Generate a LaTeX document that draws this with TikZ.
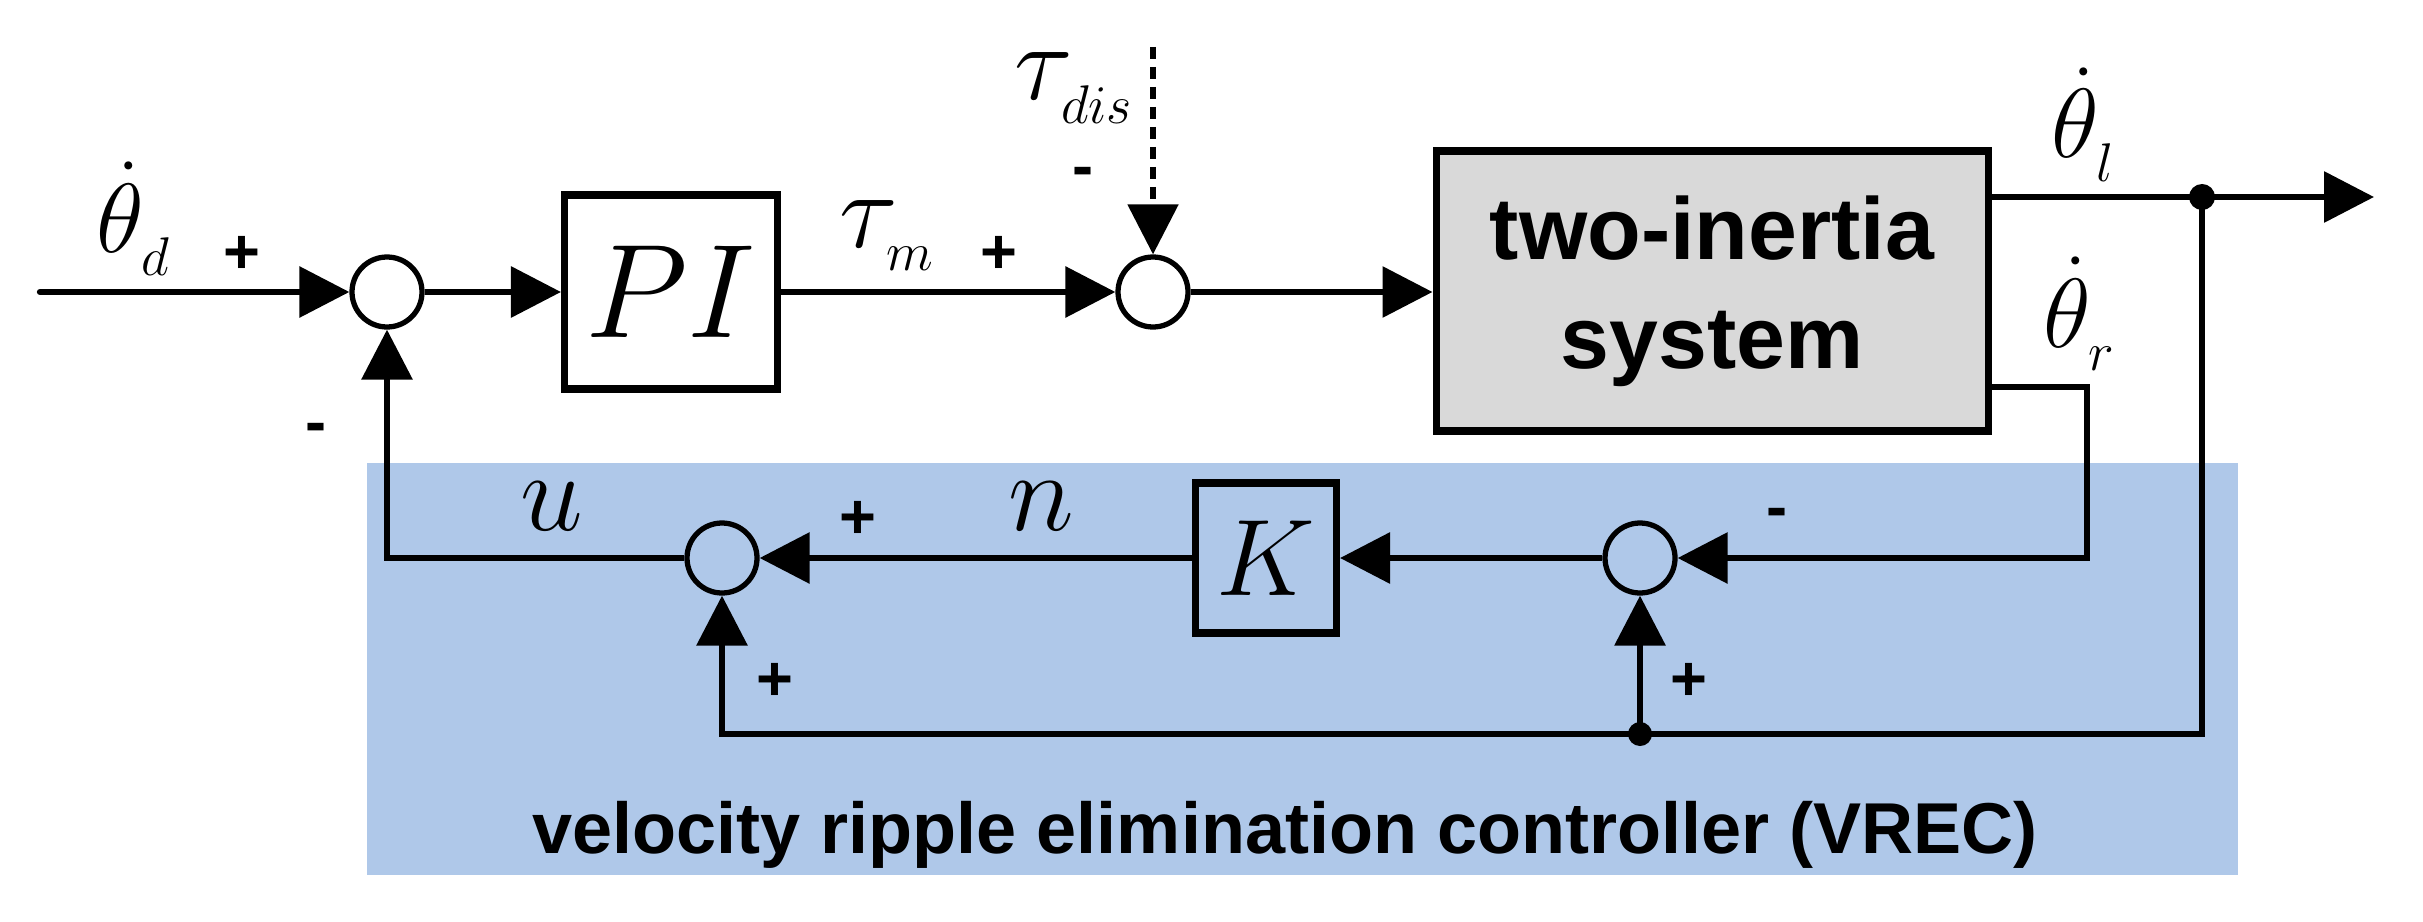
\RequirePackage{fix-cm}
\documentclass[tikz,border=0pt]{standalone}
\usepackage{amsmath}
\usepackage{fontspec}
\setsansfont{Liberation Sans}
\usetikzlibrary{arrows.meta}
\definecolor{vrecblue}{RGB}{175,200,233}
\definecolor{plantgray}{RGB}{217,217,217}
\DeclareMathSizes{28}{28}{15.5}{11}
\DeclareMathSizes{31}{31}{15.5}{11}
\newcommand{\lowsub}{\fontdimen16\textfont2=0.23cm\relax}

\begin{document}
\begin{tikzpicture}[
  sig/.style={line width=1.8pt,-{Triangle[length=5mm,width=5mm]}},
  wire/.style={line width=1.8pt},
  sumnode/.style={circle,draw,line width=1.5pt,minimum size=0.70cm,inner sep=0pt},
  blk/.style={draw,line width=2pt,inner sep=0pt},
  sgn/.style={font=\sffamily\bfseries\fontsize{18}{18}\selectfont,inner sep=0pt},
  lbl/.style={anchor=base west,inner sep=0pt,font=\fontsize{28}{30}\selectfont}
]
\useasboundingbox (0,0) rectangle (24.23,-9.21);
\fill[vrecblue] (3.67,-4.63) rectangle (22.38,-8.75);

\coordinate (in) at (0.40,-2.92);
\node[sumnode] (errsum) at (3.87,-2.92) {};
\node[blk,minimum width=2.13cm,minimum height=1.94cm,font=\fontsize{38}{40}\selectfont] (pi) at (6.71,-2.92) {$PI$};
\node[sumnode] (torqsum) at (11.53,-2.92) {};
\coordinate (dis) at (11.53,-0.47);
\node[blk,fill=plantgray,minimum width=5.52cm,minimum height=2.80cm,align=center,font=\sffamily\bfseries\fontsize{25}{31}\selectfont] (plant) at (17.12,-2.91) {two-inertia\\system};
\coordinate (jl) at (22.02,-1.97);
\coordinate (out) at (23.74,-1.97);
\coordinate (rc) at (20.87,-3.87);
\coordinate (jb) at (22.02,-7.34);
\node[sumnode] (ripsum) at (16.40,-5.58) {};
\node[blk,minimum width=1.41cm,minimum height=1.50cm,font=\fontsize{31}{33}\selectfont] (gain) at (12.66,-5.58) {$K$};
\node[sumnode] (usum) at (7.22,-5.58) {};
\coordinate (jk) at (ripsum |- jb);

\draw[sig,line cap=round] (in) -- (errsum);
\draw[sig] (errsum) -- (pi);
\draw[sig] (pi) -- (torqsum);
\draw[sig] (torqsum) -- (torqsum -| plant.west);
\draw[sig,line width=1.5pt,dash pattern=on 0.12cm off 0.08cm] (dis) -- (torqsum);
\draw[wire] (plant.east |- jl) -- (jl);
\draw[sig] (jl) -- (out);
\draw[sig] (plant.east |- rc) -- (rc) |- (ripsum);
\draw[sig] (ripsum) -- (gain);
\draw[sig] (gain) -- (usum);
\draw[sig] (usum) -| (errsum);
\draw[wire] (jl) -- (jb) -- (jk);
\draw[sig] (jk) -| (usum);
\draw[sig] (jk) -- (ripsum);
\fill (jl) circle (0.13);
\fill (jk) circle (0.12);

\node[lbl] (thd) at (0.96,-2.52) {$\lowsub\dot{\theta}_d$};
\node[lbl,font=\fontsize{31}{33}\selectfont] (taum) at (8.39,-2.47) {$\lowsub\tau_m$};
\node[lbl,font=\fontsize{31}{33}\selectfont] (taudis) at (10.14,-1.00) {$\lowsub\tau_{dis}$};
\node[lbl] (thl) at (20.51,-1.58) {$\lowsub\dot{\theta}_l$};
\node[lbl] (thr) at (20.43,-3.47) {$\lowsub\dot{\theta}_r$};
\node[lbl,font=\fontsize{32}{34}\selectfont] (ul) at (5.20,-5.30) {$u$};
\node[lbl,font=\fontsize{32}{34}\selectfont] (nl) at (10.08,-5.30) {$n$};

\node[sgn] (p1) at (2.42,-2.55) {+};
\node[sgn] (m1) at (3.16,-4.33) {-};
\node[sgn] (p2) at (9.99,-2.55) {+};
\node[sgn] (m2) at (10.83,-1.77) {-};
\node[sgn] (m3) at (17.77,-5.18) {-};
\node[sgn] (p3) at (16.89,-6.82) {+};
\node[sgn] (p4) at (8.58,-5.20) {+};
\node[sgn] (p5) at (7.75,-6.82) {+};

\node[font=\sffamily\bfseries\fontsize{20.5}{24}\selectfont,anchor=base,inner sep=0pt] (vrec) at (12.85,-8.53) {velocity ripple elimination controller (VREC)};
\end{tikzpicture}
\end{document}
